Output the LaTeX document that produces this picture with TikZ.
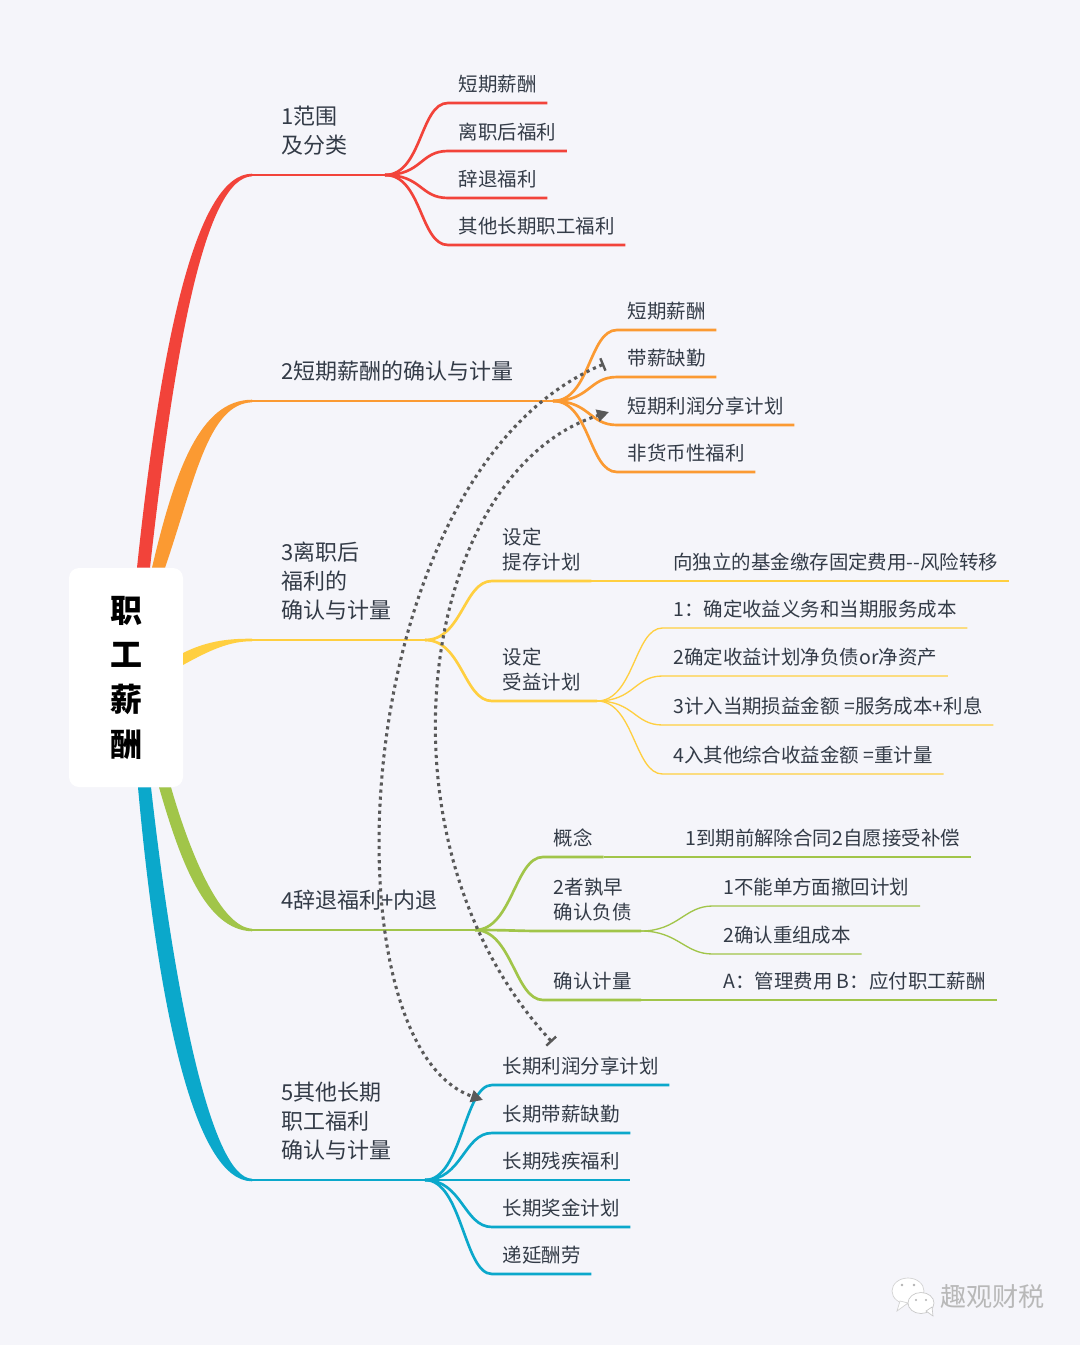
\documentclass[tikz,border=0pt]{standalone}
\usepackage{fontspec}
\setmainfont[Ligatures=NoCommon]{Noto Sans CJK SC}
\usepackage{xcolor}
\usetikzlibrary{arrows.meta}
\usetikzlibrary{calc}
\definecolor{pagebg}{HTML}{F5F5FA}
\definecolor{inkcol}{HTML}{333B47}
\definecolor{redcol}{HTML}{F2433A}
\definecolor{orangecol}{HTML}{FB9A32}
\definecolor{yellowcol}{HTML}{FFCF40}
\definecolor{greencol}{HTML}{A1C549}
\definecolor{bluecol}{HTML}{0BA8CB}
\definecolor{linkcol}{HTML}{595959}
\tikzset{
  topic/.style={anchor=south west, align=left, inner xsep=0pt, inner ysep=12.8pt,
    text depth=3pt, text=inkcol, font=\fontsize{16.5}{21.8}\selectfont},
  leaf/.style={anchor=south west, align=left, inner xsep=7.9pt, inner ysep=5.5pt,
    text depth=2.6pt, text=inkcol, font=\fontsize{14.6}{18.75}\selectfont},
  thick line/.style={line width=2pt},
  thin line/.style={line width=1pt},
  branch/.style={to path={.. controls +(37,0) and +(-28,0) .. (\tikztotarget)}},
  link/.style={linkcol, line width=2.3pt, dash pattern=on 2.4pt off 2.9pt,
    {Bar[width=10pt,line width=1.8pt]}-{Triangle[length=9pt,width=9pt]}},
}
\begin{document}
\begin{tikzpicture}[x=.75pt,y=-.75pt]
\useasboundingbox[fill=pagebg] (0,0) rectangle (1080,1345);
% central box
\node[fill=white, rounded corners=7.5pt, minimum width=85.5pt, minimum height=164.25pt,
  align=center, inner sep=0pt, font=\fontsize{24}{33.5}\selectfont\bfseries] (root) at (126,677.5)
  {职\\工\\薪\\酬};
% start of each main line, and its hub
\coordinate (start1) at (252,175);
\coordinate (hub1) at (385,175);
\coordinate (start2) at (252,401);
\coordinate (hub2) at (553,401);
\coordinate (start3) at (252,640);
\coordinate (hub3) at (425,640);
\coordinate (start4) at (252,930);
\coordinate (hub4) at (475,930);
\coordinate (start5) at (252,1180);
\coordinate (hub5) at (425,1180);
% tapered arms out of the box
\fill[redcol] ($(root.north)+(11,0)$) .. controls (162,330) and (198,174) .. ($(start1)+(0,-1.3)$)
  -- ($(start1)+(0,1.3)$) .. controls (208,178) and (177,325) .. ($(root.north)+(24,0)$) -- cycle;
\fill[orangecol] ($(root.north)+(26,0)$) .. controls (175,470) and (200,400) .. ($(start2)+(0,-1.3)$)
  -- ($(start2)+(0,1.3)$) .. controls (208,404) and (195,480) .. ($(root.north)+(39,0)$) -- cycle;
\fill[yellowcol] (183,653) .. controls (205,642) and (225,638.5) .. ($(start3)+(0,-1.3)$)
  -- ($(start3)+(0,1.3)$) .. controls (230,641) and (210,650) .. (183,665) -- cycle;
\fill[greencol] ($(root.south)+(33,0)$) .. controls (180,860) and (205,930) .. ($(start4)+(0,1.3)$)
  -- ($(start4)+(0,-1.3)$) .. controls (222,927) and (192,860) .. ($(root.south)+(45,0)$) -- cycle;
\fill[bluecol] ($(root.south)+(12,0)$) .. controls (158,1010) and (195,1181) .. ($(start5)+(0,1.3)$)
  -- ($(start5)+(0,-1.3)$) .. controls (212,1178) and (175,1000) .. ($(root.south)+(25,0)$) -- cycle;
% topics
\node[topic] (topic1) at (281,175) {1范围\\及分类};
\node[topic] (topic2) at (281,401) {2短期薪酬的确认与计量};
\node[topic] (topic3) at (281,640) {3离职后\\福利的\\确认与计量};
\node[topic] (topic4) at (281,930) {4辞退福利+内退};
\node[topic] (topic5) at (281,1180) {5其他长期\\职工福利\\确认与计量};
% branch 1
\node[leaf] (a1) at (448,103) {短期薪酬};
\node[leaf] (a2) at (448,151) {离职后福利};
\node[leaf] (a3) at (448,198) {辞退福利};
\node[leaf] (a4) at (448,245) {其他长期职工福利};
\draw[redcol, thick line] (start1) -- (hub1);
\draw[redcol, thick line] (hub1) to[branch] (a1.south west) -- (a1.south east);
\draw[redcol, thick line] (hub1) to[branch] (a2.south west) -- (a2.south east);
\draw[redcol, thick line] (hub1) to[branch] (a3.south west) -- (a3.south east);
\draw[redcol, thick line] (hub1) to[branch] (a4.south west) -- (a4.south east);
% branch 2
\node[leaf] (b1) at (617,330) {短期薪酬};
\node[leaf] (b2) at (617,377) {带薪缺勤};
\node[leaf] (b3) at (617,425) {短期利润分享计划};
\node[leaf] (b4) at (617,472) {非货币性福利};
\draw[orangecol, thick line] (start2) -- (hub2);
\draw[orangecol, thick line] (hub2) to[branch] (b1.south west) -- (b1.south east);
\draw[orangecol, thick line] (hub2) to[branch] (b2.south west) -- (b2.south east);
\draw[orangecol, thick line] (hub2) to[branch] (b3.south west) -- (b3.south east);
\draw[orangecol, thick line] (hub2) to[branch] (b4.south west) -- (b4.south east);
% branch 3
\node[leaf] (c1) at (492,581) {设定\\提存计划};
\node[leaf] (c2) at (492,701) {设定\\受益计划};
\node[leaf] (c11) at (662.5,581) {向独立的基金缴存固定费用-{}-风险转移};
\node[leaf] (c21) at (662.5,628) {1：确定收益义务和当期服务成本};
\node[leaf] (c22) at (662.5,676) {2确定收益计划净负债or净资产};
\node[leaf] (c23) at (662.5,725) {3计入当期损益金额 =服务成本+利息};
\node[leaf] (c24) at (662.5,774) {4入其他综合收益金额 =重计量};
\coordinate (hub32) at (597,701);
\draw[yellowcol, thick line] (start3) -- (hub3);
\draw[yellowcol, thick line] (hub3) to[branch] (c1.south west) -- (c1.south east);
\draw[yellowcol, thick line] (hub3) to[branch] (c2.south west) -- (hub32);
\draw[yellowcol, thin line] (c1.south east) -- (c11.south east);
\draw[yellowcol, thin line] (hub32) to[branch] (c21.south west) -- (c21.south east);
\draw[yellowcol, thin line] (hub32) to[branch] (c22.south west) -- (c22.south east);
\draw[yellowcol, thin line] (hub32) to[branch] (c23.south west) -- (c23.south east);
\draw[yellowcol, thin line] (hub32) to[branch] (c24.south west) -- (c24.south east);
% branch 4
\node[leaf] (d1) at (543,857) {概念};
\node[leaf] (d2) at (543,931) {2者孰早\\确认负债};
\node[leaf] (d3) at (543,1000) {确认计量};
\node[leaf] (d11) at (674.5,857) {1到期前解除合同2自愿接受补偿};
\node[leaf] (d21) at (712.5,906) {1不能单方面撤回计划};
\node[leaf] (d22) at (712.5,954) {2确认重组成本};
\node[leaf] (d31) at (712.5,1000) {A：管理费用 B：应付职工薪酬};
\coordinate (hub42) at (641,931);
\draw[greencol, thick line] (start4) -- (hub4);
\draw[greencol, thick line] (hub4) to[branch] (d1.south west) -- (d1.south east);
\draw[greencol, thick line] (hub4) to[branch] (d2.south west) -- (hub42);
\draw[greencol, thick line] (hub4) to[branch] (d3.south west) -- (d3.south east -| hub42);
\draw[greencol, thin line] (d1.south east) -- (d11.south east);
\draw[greencol, thin line] (hub42) to[branch] (d21.south west) -- (d21.south east);
\draw[greencol, thin line] (hub42) to[branch] (d22.south west) -- (d22.south east);
\draw[greencol, thin line] (hub42 |- d3.south) -- (d31.south east);
% branch 5
\node[leaf] (e1) at (492,1085) {长期利润分享计划};
\node[leaf] (e2) at (492,1133) {长期带薪缺勤};
\node[leaf] (e3) at (492,1180) {长期残疾福利};
\node[leaf] (e4) at (492,1227) {长期奖金计划};
\node[leaf] (e5) at (492,1274) {递延酬劳};
\draw[bluecol, thick line] (start5) -- (hub5);
\draw[bluecol, thick line] (hub5) to[branch] (e1.south west) -- (e1.south east);
\draw[bluecol, thick line] (hub5) to[branch] (e2.south west) -- (e2.south east);
\draw[bluecol, thick line] (hub5) to[branch] (e3.south west) -- (e3.south east);
\draw[bluecol, thick line] (hub5) to[branch] (e4.south west) -- (e4.south east);
\draw[bluecol, thick line] (hub5) to[branch] (e5.south west) -- (e5.south east);
% dotted links
\coordinate (link1) at (604,364);
\coordinate (link2) at (483,1100);
\coordinate (link3) at (552,1042);
\coordinate (link4) at (609,412);
\draw[link] (link1) .. controls (345,472) and (322,1045) .. (link2);
\draw[link] (link3) .. controls (365,840) and (420,472) .. (link4);
% watermark
\fill[white, draw=black!18, line width=.5pt] (908,1291) ellipse (16 and 13);
\fill[white, draw=black!18, line width=.5pt] (900,1301) -- (897,1311) -- (908,1303) -- cycle;
\fill[white, draw=black!22, line width=.5pt] (921,1303) ellipse (13 and 10.5);
\fill[white, draw=black!22, line width=.5pt] (926,1311) -- (933,1316) -- (932,1307) -- cycle;
\fill[black!30] (902,1285) circle (1.3) (914,1285) circle (1.3) (916,1300) circle (1.2) (926,1300) circle (1.2);
\node[anchor=west, inner sep=0pt, text=black!28, font=\fontsize{19.6}{24}\selectfont] (mark) at (940,1297) {趣观财税};
\end{tikzpicture}
\end{document}
